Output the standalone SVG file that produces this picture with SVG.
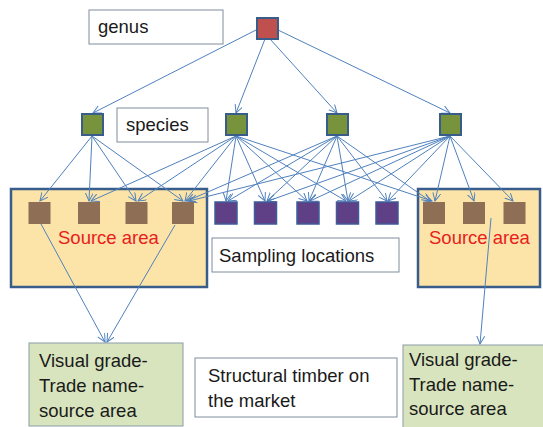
<svg xmlns="http://www.w3.org/2000/svg" width="543" height="427" viewBox="0 0 543 427">
<defs>
<marker id="ah" markerUnits="userSpaceOnUse" markerWidth="10" markerHeight="10" refX="8" refY="4" orient="auto">
<path d="M0,0 L8,4 L0,8" fill="none" stroke="#4F81BD" stroke-width="1"/>
</marker>
<style>
.lbl{fill:#FFFFFF;stroke:#7F8C9A;stroke-width:1}
.grn{fill:#D7E4BD;stroke:#8C9BAA;stroke-width:1}
.src{fill:#FCE4A8;stroke:#385D8A;stroke-width:2.5}
.t{font-family:"Liberation Sans",Arial,sans-serif;font-size:18.5px;fill:#1A1A1A}
.red{font-family:"Liberation Sans",Arial,sans-serif;font-size:18.5px;fill:#E8201C}
.gen{fill:#C0504D;stroke:#385D8A;stroke-width:2}
.sp{fill:#77933C;stroke:#385D8A;stroke-width:2}
.br{fill:#8E6E55}
.pu{fill:#5F3F86;stroke:#3E5C99;stroke-width:1.5}
.c line{stroke:#4F81BD;stroke-width:1;marker-end:url(#ah)}
</style>
</defs>
<rect width="543" height="427" fill="#FFFFFF"/>

<g id="source-area-left"><rect class="src" x="11" y="189" width="196" height="98"/><text class="red" x="58" y="244">Source area</text></g>
<g id="source-area-right"><rect class="src" x="418" y="189" width="122" height="98"/><text class="red" x="429" y="244">Source area</text></g>

<g id="genus-label"><rect class="lbl" x="89" y="10" width="134" height="34"/><text class="t" x="98" y="33">genus</text></g>
<g id="species-label"><rect class="lbl" x="117" y="108" width="91" height="34"/><text class="t" x="126" y="131">species</text></g>
<g id="sampling-label"><rect class="lbl" x="212" y="238" width="187" height="34"/><text class="t" x="219" y="262">Sampling locations</text></g>
<g id="structural-label"><rect class="lbl" x="195" y="358" width="202" height="59"/><text class="t" x="208" y="382">Structural timber on</text><text class="t" x="208" y="407">the market</text></g>

<g id="visual-left"><rect class="grn" x="29" y="343" width="154" height="83"/><text class="t" x="39" y="367">Visual grade-</text><text class="t" x="39" y="392">Trade name-</text><text class="t" x="39" y="417">source area</text></g>
<g id="visual-right"><rect class="grn" x="403" y="345" width="145" height="90"/><text class="t" x="409" y="366">Visual grade-</text><text class="t" x="409" y="391">Trade name-</text><text class="t" x="409" y="415">source area</text></g>

<g class="c" id="connectors">
<line x1="256" y1="30" x2="93" y2="113"/>
<line x1="265" y1="39" x2="236" y2="113"/>
<line x1="270" y1="39" x2="337" y2="113"/>
<line x1="278" y1="30" x2="450" y2="113"/>

<line x1="92" y1="136" x2="40" y2="201"/>
<line x1="92" y1="136" x2="89" y2="201"/>
<line x1="92" y1="136" x2="136" y2="201"/>
<line x1="92" y1="136" x2="183" y2="201"/>

<line x1="236" y1="136" x2="91" y2="201"/>
<line x1="236" y1="136" x2="138" y2="201"/>
<line x1="236" y1="136" x2="185" y2="201"/>
<line x1="236" y1="136" x2="226" y2="201"/>
<line x1="236" y1="136" x2="265" y2="201"/>
<line x1="236" y1="136" x2="307" y2="201"/>
<line x1="236" y1="136" x2="346" y2="201"/>
<line x1="236" y1="136" x2="432" y2="201"/>

<line x1="337" y1="136" x2="187" y2="201"/>
<line x1="337" y1="136" x2="228" y2="201"/>
<line x1="337" y1="136" x2="267" y2="201"/>
<line x1="337" y1="136" x2="309" y2="201"/>
<line x1="337" y1="136" x2="348" y2="201"/>
<line x1="337" y1="136" x2="387" y2="201"/>
<line x1="337" y1="136" x2="430" y2="201"/>

<line x1="450" y1="136" x2="189" y2="201"/>
<line x1="450" y1="136" x2="268" y2="201"/>
<line x1="450" y1="136" x2="310" y2="201"/>
<line x1="450" y1="136" x2="349" y2="201"/>
<line x1="450" y1="136" x2="388" y2="201"/>
<line x1="450" y1="136" x2="435" y2="201"/>
<line x1="450" y1="136" x2="474" y2="201"/>
<line x1="450" y1="136" x2="513" y2="201"/>

<line x1="41" y1="224" x2="105" y2="342"/>
<line x1="175" y1="225" x2="107" y2="342"/>
<line x1="491" y1="218" x2="480" y2="344"/>
</g>

<g id="genus"><rect class="gen" x="257" y="18" width="21" height="21"/></g>
<g id="species-1"><rect class="sp" x="82" y="114" width="21" height="21"/></g>
<g id="species-2"><rect class="sp" x="226" y="114" width="21" height="21"/></g>
<g id="species-3"><rect class="sp" x="327" y="114" width="21" height="21"/></g>
<g id="species-4"><rect class="sp" x="440" y="114" width="21" height="21"/></g>

<g id="source-1"><rect class="br" x="28.5" y="202" width="22" height="22"/></g>
<g id="source-2"><rect class="br" x="78" y="202" width="22" height="22"/></g>
<g id="source-3"><rect class="br" x="125.5" y="202" width="22" height="22"/></g>
<g id="source-4"><rect class="br" x="172" y="202" width="22" height="22"/></g>
<g id="sample-1"><rect class="pu" x="215" y="202" width="22" height="22"/></g>
<g id="sample-2"><rect class="pu" x="254.5" y="202" width="22" height="22"/></g>
<g id="sample-3"><rect class="pu" x="297" y="202" width="22" height="22"/></g>
<g id="sample-4"><rect class="pu" x="336.5" y="202" width="22" height="22"/></g>
<g id="sample-5"><rect class="pu" x="376" y="202" width="22" height="22"/></g>
<g id="source-5"><rect class="br" x="423" y="202" width="22" height="22"/></g>
<g id="source-6"><rect class="br" x="463" y="202" width="22" height="22"/></g>
<g id="source-7"><rect class="br" x="503.5" y="202" width="22" height="22"/></g>
</svg>
